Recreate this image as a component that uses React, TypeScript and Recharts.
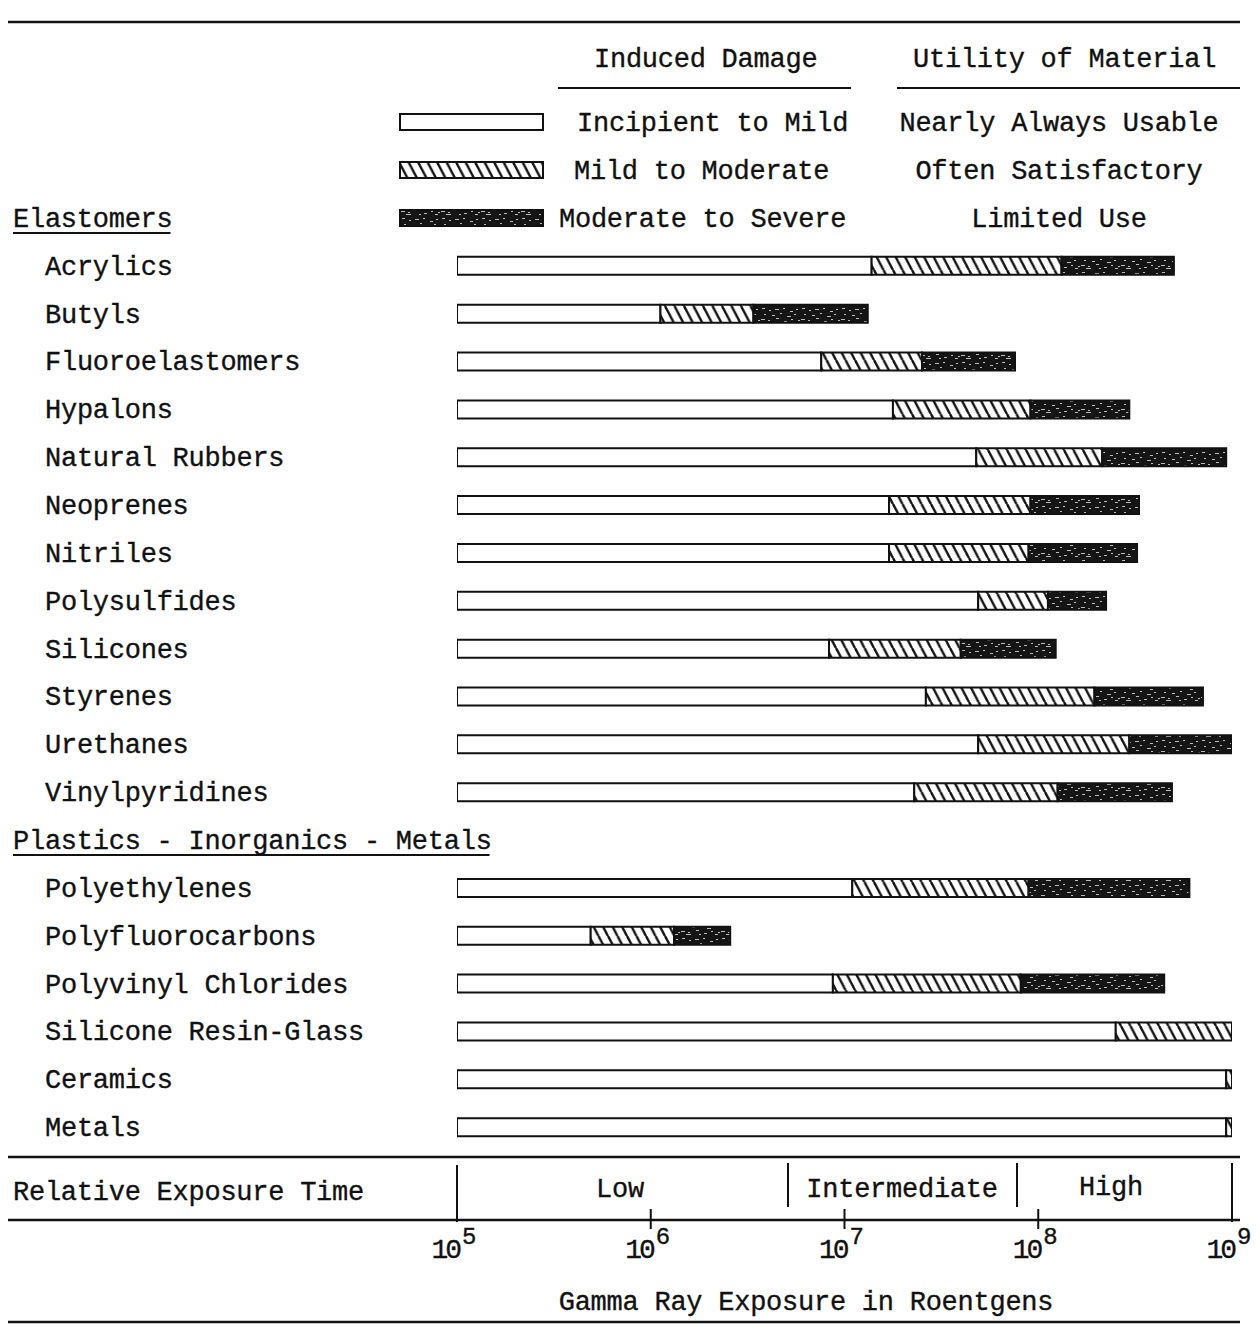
import React from "react";
import { BarChart, Bar, XAxis, YAxis } from "recharts";

// Rows of the chart (group headers included as empty rows)
const categories = [
  "Elastomers",
  "Acrylics",
  "Butyls",
  "Fluoroelastomers",
  "Hypalons",
  "Natural Rubbers",
  "Neoprenes",
  "Nitriles",
  "Polysulfides",
  "Silicones",
  "Styrenes",
  "Urethanes",
  "Vinylpyridines",
  "Plastics - Inorganics - Metals",
  "Polyethylenes",
  "Polyfluorocarbons",
  "Polyvinyl Chlorides",
  "Silicone Resin-Glass",
  "Ceramics",
  "Metals",
];
const groupHeaders = ["Elastomers", "Plastics - Inorganics - Metals"];

// log10 of gamma ray exposure (roentgens) at which each damage band ends
const exposureStart = 5;
const mildEnd = [null, 7.14, 6.05, 6.88, 7.25, 7.68, 7.23, 7.23, 7.69, 6.92, 7.42, 7.69, 7.36, null, 7.04, 5.69, 6.94, 8.4, 8.97, 8.97];
const moderateEnd = [null, 8.12, 6.53, 7.4, 7.96, 8.33, 7.96, 7.95, 8.05, 7.6, 8.29, 8.47, 8.1, null, 7.95, 6.12, 7.91, 9.0, 9.0, 9.0];
const severeEnd = [null, 8.7, 7.12, 7.88, 8.47, 8.97, 8.52, 8.51, 8.35, 8.09, 8.85, 9.0, 8.69, null, 8.78, 6.41, 8.65, null, null, null];

const axisExponents = [5, 6, 7, 8, 9];
const damageLabels = ["Incipient to Mild", "Mild to Moderate", "Moderate to Severe"];
const utilityLabels = ["Nearly Always Usable", "Often Satisfactory", "Limited Use"];
const exposureTimeLabels = ["Low", "Intermediate", "High"];

const data = categories.map((name, i) => ({
  name,
  mild: mildEnd[i] == null ? null : (mildEnd[i] as number) - exposureStart,
  moderate:
    moderateEnd[i] == null || mildEnd[i] == null ? null : (moderateEnd[i] as number) - (mildEnd[i] as number),
  severe:
    severeEnd[i] == null || moderateEnd[i] == null ? null : (severeEnd[i] as number) - (moderateEnd[i] as number),
}));

const FONT = "'Liberation Mono', 'DejaVu Sans Mono', monospace";
const FS = 27;
const LS = -0.25;
const CH = 15.95;
const INK = "#111";

const specks: [number, number, number][] = [
  [2, 2, 3], [9, 4, 2], [15, 3, 4], [23, 2, 2], [30, 5, 3], [36, 3, 2],
  [4, 8, 2], [12, 9, 3], [20, 7, 2], [27, 10, 4], [34, 8, 2],
  [1, 13, 4], [8, 14, 2], [16, 12, 3], [24, 15, 3], [31, 13, 2], [38, 14, 2],
  [6, 16, 5], [19, 16, 2], [35, 16, 3],
];

function Defs() {
  return (
    <svg width={0} height={0} style={{ position: "absolute" }}>
      <defs>
        <pattern id="hatch" patternUnits="userSpaceOnUse" width={9.5} height={18}>
          <rect x={0} y={0} width={9.5} height={18} fill="#fff" />
          <line x1={0} y1={0} x2={9.5} y2={18} stroke={INK} strokeWidth={2.4} />
          <line x1={-9.5} y1={0} x2={0} y2={18} stroke={INK} strokeWidth={2.4} />
          <line x1={9.5} y1={0} x2={19} y2={18} stroke={INK} strokeWidth={2.4} />
        </pattern>
        <pattern id="dark" patternUnits="userSpaceOnUse" width={40} height={18}>
          <rect x={0} y={0} width={40} height={18} fill="#151515" />
          {specks.map(([x, y, w], k) => (
            <rect key={k} x={x} y={y} width={w} height={1} fill="#bdbdbd" />
          ))}
        </pattern>
      </defs>
    </svg>
  );
}

const textStyle = {
  fontFamily: FONT,
  fontSize: FS,
  letterSpacing: LS,
  fill: INK,
  stroke: INK,
  strokeWidth: 0.35,
} as const;

const CategoryTick = (props: any) => {
  const { y, payload } = props;
  const name = payload.value as string;
  const isHeader = groupHeaders.includes(name);
  const x0 = isHeader ? 13 : 45;
  return (
    <g>
      <text x={x0} y={y + 9} textAnchor="start" {...textStyle}>
        {name}
      </text>
      {isHeader && (
        <line x1={x0} y1={y + 15} x2={x0 + name.length * CH - 2} y2={y + 15} stroke={INK} strokeWidth={2} />
      )}
    </g>
  );
};

const ExponentTick = (props: any) => {
  const { x, payload } = props;
  const v = payload.value as number;
  const exp = v + exposureStart;
  const inner = exp !== 5 && exp !== 9;
  return (
    <g>
      {inner && <line x1={x} y1={1209} x2={x} y2={1229} stroke={INK} strokeWidth={2} />}
      <text x={x + 2} y={1258} textAnchor="end" {...textStyle} fontSize={28} letterSpacing={-3}>
        10
      </text>
      <text x={x + 5} y={1244} textAnchor="start" {...textStyle} fontSize={24} letterSpacing={0}>
        {String(exp)}
      </text>
    </g>
  );
};

function Overlay() {
  const line = (x1: number, y1: number, x2: number, y2: number, w = 2.5) => (
    <line x1={x1} y1={y1} x2={x2} y2={y2} stroke={INK} strokeWidth={w} />
  );
  const legendFills = ["#fff", "url(#hatch)", "url(#dark)"];
  const legendY = [122, 170, 218];
  const damageX = [577, 574, 559];
  return (
    <svg
      width={1260}
      height={1338}
      style={{ position: "absolute", left: 0, top: 0, pointerEvents: "none" }}
    >
      {line(8, 22, 1240, 22)}
      <text x={594} y={67} {...textStyle}>Induced Damage</text>
      <text x={913} y={67} {...textStyle}>Utility of Material</text>
      {line(558, 88, 851, 88, 2)}
      {line(897, 88, 1240, 88, 2)}
      {legendY.map((cy, i) => (
        <g key={i}>
          <rect x={400} y={cy - 8} width={143} height={16} fill={legendFills[i]} stroke={INK} strokeWidth={2} />
          <text x={damageX[i]} y={cy + 9} {...textStyle}>{damageLabels[i]}</text>
          <text x={1059} y={cy + 9} textAnchor="middle" {...textStyle}>{utilityLabels[i]}</text>
        </g>
      ))}
      {line(8, 1157, 1240, 1157)}
      <text x={13} y={1200} {...textStyle}>Relative Exposure Time</text>
      {line(457, 1165, 457, 1222, 2)}
      {line(788, 1163, 788, 1207, 2)}
      {line(1017, 1163, 1017, 1207, 2)}
      {line(1232, 1163, 1232, 1222, 2)}
      <text x={620} y={1197} textAnchor="middle" {...textStyle}>{exposureTimeLabels[0]}</text>
      <text x={902} y={1197} textAnchor="middle" {...textStyle}>{exposureTimeLabels[1]}</text>
      <text x={1111} y={1195} textAnchor="middle" {...textStyle}>{exposureTimeLabels[2]}</text>
      {line(8, 1220, 1240, 1220)}
      <text x={806} y={1310} textAnchor="middle" {...textStyle}>Gamma Ray Exposure in Roentgens</text>
      {line(8, 1322, 1240, 1322)}
    </svg>
  );
}

export default function App() {
  return (
    <div
      style={{
        position: "absolute",
        left: 0,
        top: 0,
        width: 1260,
        height: 1338,
        background: "#fff",
        overflow: "hidden",
      }}
    >
      <Defs />
      <BarChart
        width={1260}
        height={1338}
        data={data}
        layout="vertical"
        margin={{ top: 194, right: 28, bottom: 0, left: 0 }}
        barSize={18}
      >
        <XAxis
          type="number"
          domain={[0, 4]}
          ticks={axisExponents.map((e) => e - exposureStart)}
          interval={0}
          allowDataOverflow
          axisLine={false}
          tickLine={false}
          height={187}
          tick={<ExponentTick />}
        />
        <YAxis
          type="category"
          dataKey="name"
          width={457}
          axisLine={false}
          tickLine={false}
          interval={0}
          tick={<CategoryTick />}
        />
        <Bar dataKey="mild" stackId="d" fill="#fff" stroke={INK} strokeWidth={2} isAnimationActive={false} />
        <Bar dataKey="moderate" stackId="d" fill="url(#hatch)" stroke={INK} strokeWidth={2} isAnimationActive={false} />
        <Bar dataKey="severe" stackId="d" fill="url(#dark)" stroke={INK} strokeWidth={2} isAnimationActive={false} />
      </BarChart>
      <Overlay />
    </div>
  );
}
